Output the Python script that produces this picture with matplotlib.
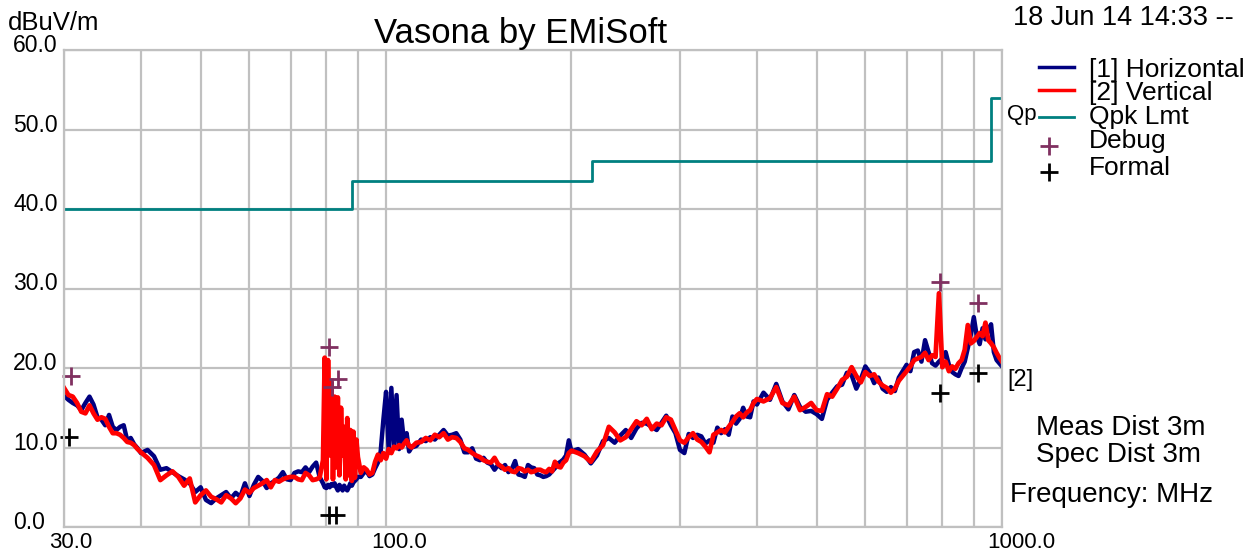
import matplotlib
matplotlib.use('Agg')
import matplotlib.pyplot as plt
from matplotlib.ticker import NullLocator
from matplotlib.transforms import offset_copy, blended_transform_factory

plt.rcParams['font.family'] = ['Liberation Sans', 'DejaVu Sans']

# frecuencias (MHz) de los puntos del barrido
freq = [30, 30.5, 31, 31.5, 32, 32.5, 33, 33.5, 34, 34.5, 35, 35.5, 36, 36.5, 37, 37.5, 38, 38.5, 39, 39.5, 40,
        41, 42, 43, 44, 45, 46, 47, 48, 49, 50, 51, 52, 53, 54, 55, 56, 57, 58, 59, 60,
        61, 62, 63, 64, 65, 66, 67, 68, 69, 70, 71, 72, 73, 74, 75, 76, 77, 78, 79,
        79.5, 80, 80.5, 81, 81.5, 82, 82.5, 83, 83.5, 84, 84.5, 85, 85.5, 86, 86.5, 87, 87.5, 88, 88.5, 89, 89.5, 90,
        91, 92, 93, 94, 95, 96, 97, 98, 99, 100, 101, 102, 103, 104, 105, 106, 107, 108, 109, 110,
        112, 114, 116, 118, 120, 122, 124, 126, 128, 130, 132, 134, 136, 138, 140, 142, 144, 146, 148, 150,
        152, 154, 156, 158, 160, 162, 164, 166, 168, 170, 172, 174, 176, 178, 180, 182, 184, 186, 188, 190,
        192, 194, 196, 198, 200,
        205, 210, 215, 220, 225, 230, 235, 240, 245, 250, 255, 260, 265, 270, 275, 280, 285, 290, 295, 300,
        305, 310, 315, 320, 325, 330, 335, 340, 345, 350, 355, 360, 365, 370, 375, 380, 385, 390, 395, 400,
        410, 420, 430, 440, 450, 460, 470, 480, 490, 500, 510, 520, 530, 540, 550, 560, 570, 580, 590, 600,
        610, 620, 630, 640, 650, 660, 670, 680, 690, 700, 710, 720, 730, 740, 750, 760, 770, 780, 790, 800,
        810, 820, 830, 840, 850, 860, 870, 880, 890, 900, 910, 920, 930, 940, 950, 960, 970, 980, 990, 1000]

# [1] Horizontal (dBuV/m)
horiz = [16.5, 16.0, 15.6, 15.3, 14.7, 15.6, 16.4, 15.4, 13.8, 13.5, 12.8, 14.1, 12.6, 12.2, 12.6, 12.8, 10.9, 11.2, 10.4, 9.9, 9.3,
         9.7, 8.9, 7.2, 7.4, 6.9, 6.4, 6.0, 5.5, 4.4, 5.0, 3.4, 3.0, 3.6, 4.0, 4.4, 3.6, 4.3, 3.8, 5.5, 3.9,
         5.3, 6.3, 5.8, 4.9, 5.5, 5.8, 6.2, 6.9, 6.0, 5.9, 6.8, 7.0, 6.9, 7.5, 6.9, 7.6, 8.1, 6.3, 5.5,
         5.0, 4.9, 5.3, 5.0, 5.4, 5.2, 5.5, 5.0, 4.6, 5.3, 5.0, 4.6, 5.2, 4.8, 4.6, 5.0, 5.5, 5.2, 5.6, 5.8, 6.0, 6.3,
         6.3, 6.8, 7.0, 6.4, 6.6, 7.4, 8.1, 9.5, 13.5, 17.0, 9.5, 17.5, 10.0, 16.6, 9.8, 13.5, 10.5, 11.8, 9.5, 10.0,
         10.2, 11.0, 10.8, 11.3, 11.0, 11.6, 12.2, 11.5, 11.6, 11.8, 11.0, 9.4, 9.4, 9.9, 8.6, 8.4, 8.7, 8.1, 7.9, 7.2,
         7.8, 7.4, 7.8, 6.9, 7.3, 8.3, 6.6, 6.5, 6.3, 7.8, 7.5, 7.4, 6.6, 6.5, 6.3, 6.4, 6.6, 7.0, 7.4, 8.0,
         8.2, 8.5, 9.0, 10.9, 9.5,
         9.8, 9.1, 8.0, 9.0, 10.8, 11.2, 10.6, 11.5, 12.2, 11.2, 12.4, 13.1, 13.0, 12.6, 12.2, 13.1, 14.0, 12.8, 11.8, 9.7,
         9.3, 11.7, 11.2, 11.6, 11.4, 10.5, 10.9, 10.6, 12.5, 11.8, 12.3, 11.6, 13.9, 13.0, 13.6, 15.0, 13.9, 13.8, 15.8, 15.4,
         16.9, 16.0, 18.0, 15.8, 14.8, 16.6, 15.1, 14.5, 14.6, 14.2, 13.6, 16.0, 16.9, 17.7, 17.9, 19.4, 19.1, 17.4, 18.6, 20.2,
         19.4, 18.1, 18.8, 17.4, 17.0, 17.6, 17.1, 18.8, 19.6, 20.4, 19.6, 22.0, 22.2, 20.8, 23.5, 22.0, 20.6, 20.3, 20.8, 21.2,
         22.0, 20.4, 19.5, 19.2, 19.0, 20.0, 20.8, 22.5, 24.2, 26.4, 24.0, 23.0, 25.0, 23.6, 24.8, 25.5, 22.0, 21.0, 20.6, 20.2]

# [2] Vertical (dBuV/m)
vert = [17.5, 16.6, 16.4, 15.6, 14.5, 14.3, 15.3, 14.3, 13.5, 13.8, 13.6, 12.6, 11.8, 11.8, 11.6, 11.2, 10.7, 10.6, 10.3, 9.8, 9.4,
        8.7, 7.8, 5.9, 6.5, 7.0, 6.3, 5.2, 6.1, 3.1, 4.0, 4.6, 3.8, 3.5, 3.1, 4.0, 3.6, 3.0, 3.6, 4.7, 4.3,
        4.9, 5.2, 5.5, 5.9, 5.0, 5.9, 5.7, 6.0, 6.2, 6.3, 6.3, 6.0, 5.9, 6.8, 6.5, 5.9, 6.0, 6.2, 8.4,
        21.3, 6.0, 21.0, 9.0, 18.2, 6.0, 16.4, 7.5, 16.3, 6.5, 15.0, 9.0, 12.6, 6.0, 13.7, 6.5, 12.2, 5.8, 12.0, 6.2, 11.0, 8.8,
        6.8, 7.5, 7.2, 6.6, 6.8, 8.2, 9.1, 8.4, 9.3, 8.6, 9.8, 9.3, 10.1, 9.9, 10.3, 10.0, 10.5, 10.9, 10.2, 10.0,
        10.6, 10.7, 11.2, 10.9, 11.6, 11.3, 11.8, 11.0, 11.3, 11.2, 10.7, 9.9, 9.7, 9.3, 9.0, 8.8, 8.4, 8.2, 8.1, 8.7,
        7.9, 7.6, 7.2, 7.4, 7.0, 6.9, 7.4, 7.3, 7.0, 7.2, 6.9, 7.0, 7.2, 7.2, 7.0, 6.9, 7.3, 7.0, 8.2, 7.6,
        7.5, 8.1, 8.4, 9.3, 9.6,
        9.3, 8.9, 8.2, 9.5, 10.3, 12.6, 11.9, 10.9, 11.3, 12.3, 13.3, 12.8, 13.6, 12.3, 13.0, 12.8, 13.8, 13.5, 12.2, 10.9,
        10.6, 11.3, 11.8, 11.0, 10.7, 10.1, 9.4, 11.6, 11.9, 12.2, 11.9, 12.6, 13.2, 13.9, 14.3, 13.8, 14.4, 14.7, 15.6, 16.1,
        15.8, 16.2, 17.6, 15.6, 15.3, 16.4, 14.7, 15.1, 15.6, 14.7, 14.6, 16.7, 16.4, 17.4, 18.5, 18.9, 20.1, 19.0, 18.2, 19.5,
        19.0, 19.2, 18.3, 17.8, 17.5, 16.9, 17.4, 18.4, 19.0, 19.6, 20.2, 21.0, 21.2, 21.4, 21.9, 21.0, 21.6, 21.4, 29.4, 20.1,
        20.8, 19.6, 20.2, 19.9, 20.6, 21.0, 22.3, 25.4, 23.1, 23.4, 23.9, 24.4, 24.0, 25.7, 23.5, 23.1, 22.6, 21.9, 21.3, 20.8]

# limite cuasi-pico
limit_freq = [30, 88, 216, 960, 1000]
limit_level = [40, 43.5, 46, 54, 54]

# marcas Debug y Formal
debug_freq = [30.8, 80.8, 81.7, 83.6, 793, 914]
debug_level = [19.0, 22.6, 17.6, 18.6, 30.8, 28.2]
formal_freq = [30.6, 80.8, 82.8, 793, 914]
formal_level = [11.3, 1.5, 1.5, 16.9, 19.4]

xgrid = [30, 40, 50, 60, 70, 80, 90, 100, 200, 300, 400, 500, 600, 700, 800, 900, 1000]
xlab_pos = [30, 100, 1000]
xlab_txt = ['30.0', '100.0', '1000.0']
ylab_pos = [0, 10, 20, 30, 40, 50, 60]
ylab_txt = ['0.0', '10.0', '20.0', '30.0', '40.0', '50.0', '60.0']

W, H = 1246, 553
fig = plt.figure(figsize=(W / 100, H / 100), dpi=100)
ax = fig.add_axes([64 / W, 26 / H, 938 / W, 477 / H])
ax.set_xscale('log')
ax.set_xlim(30, 1000)
ax.set_ylim(0, 60)
ax.set_xticks(xgrid)
ax.xaxis.set_minor_locator(NullLocator())
ax.set_yticks(ylab_pos)
ax.tick_params(length=0, labelbottom=False, labelleft=False)
ax.grid(color='#c0c0c0', lw=1.6)
for s in ax.spines.values():
    s.set_color('#c0c0c0')
    s.set_linewidth(1.6)

ax.step(limit_freq, limit_level, where='post', color='#008080', lw=2)
ax.plot(freq, horiz, color='#000080', lw=3.2)
ax.plot(freq, vert, color='#ff0000', lw=3.4)
ax.plot(debug_freq, debug_level, '+', color='#803060', ms=13, mew=2, clip_on=False)
ax.plot(formal_freq, formal_level, '+', color='black', ms=13, mew=2, clip_on=False)

# etiquetas de ejes
ytr = offset_copy(blended_transform_factory(fig.transFigure, ax.transData), x=0, y=-2, units='dots')
for v, t in zip(ylab_pos, ylab_txt):
    ax.text(13 / W, v, t, transform=ytr, ha='left', va='baseline', fontsize=16.5)
xtr = offset_copy(ax.get_xaxis_transform(), x=-15, y=-21, units='dots')
for v, t in zip(xlab_pos, xlab_txt):
    ax.text(v, 0, t, transform=xtr, ha='left', va='baseline', fontsize=16)

# textos en pixeles de la figura
lg = fig.add_axes([0, 0, 1, 1])
lg.set_xlim(0, W)
lg.set_ylim(H, 0)
lg.axis('off')
lg.text(521, 43, 'Vasona by EMiSoft', ha='center', va='baseline', fontsize=25)
lg.text(8, 30, 'dBuV/m', ha='left', va='baseline', fontsize=18.5)
lg.text(1013, 25, '18 Jun 14 14:33 --', ha='left', va='baseline', fontsize=19.5)
lg.text(1007, 120, 'Qp', ha='left', va='baseline', fontsize=16)
lg.text(1007, 386, '[2]', ha='left', va='baseline', fontsize=17)
lg.text(1036, 435, 'Meas Dist 3m', ha='left', va='baseline', fontsize=20)
lg.text(1036, 462, 'Spec Dist 3m', ha='left', va='baseline', fontsize=20)
lg.text(1010, 502, 'Frequency: MHz', ha='left', va='baseline', fontsize=20)

# leyenda
lg.plot([1039, 1074], [67, 67], color='#000080', lw=2.5)
lg.plot([1039, 1074], [90, 90], color='#ff0000', lw=2.5)
lg.plot([1039, 1074], [117, 117], color='#008080', lw=2)
lg.plot([1049], [146], '+', color='#803060', ms=13, mew=2)
lg.plot([1049], [172], '+', color='black', ms=13, mew=2)
for yb, t in zip([77, 100, 124, 148, 175], ['[1] Horizontal', '[2] Vertical', 'Qpk Lmt', 'Debug', 'Formal']):
    lg.text(1089, yb, t, ha='left', va='baseline', fontsize=19)

fig.savefig('out.png', dpi=100)
